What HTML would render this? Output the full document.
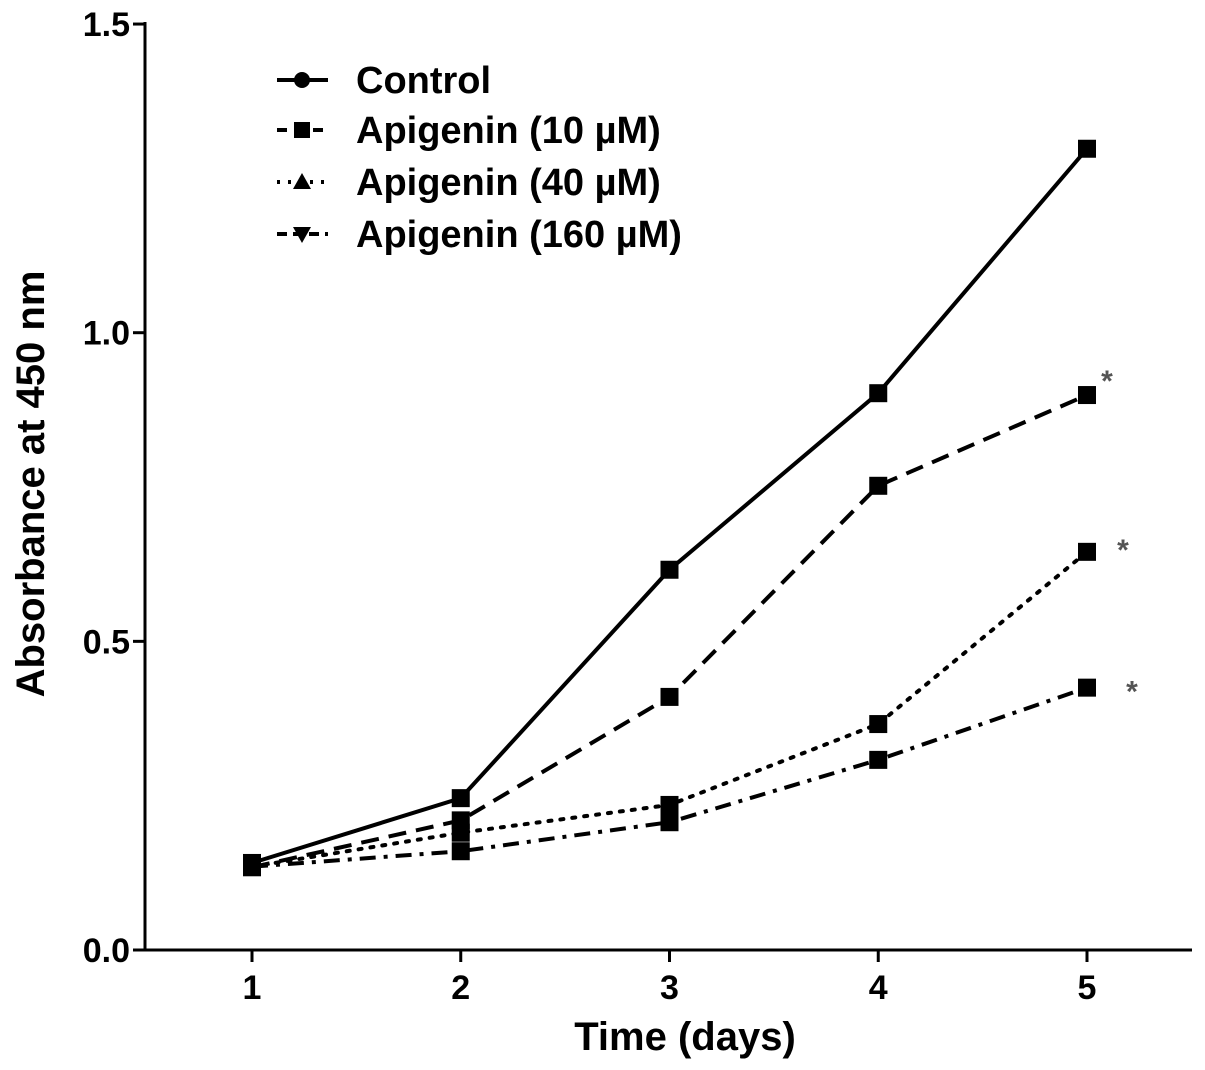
<!DOCTYPE html>
<html><head><meta charset="utf-8"><style>
body{margin:0;background:#fff;}
svg{display:block;font-family:"Liberation Sans",Arial,sans-serif;font-weight:bold;}
</style></head><body>
<svg id="chart" width="1205" height="1070" viewBox="0 0 1205 1070"></svg>
<script>
const days = [1, 2, 3, 4, 5];
const control = [0.141, 0.246, 0.616, 0.902, 1.298];
const api10 = [0.134, 0.21, 0.41, 0.752, 0.899];
const api40 = [0.135, 0.19, 0.235, 0.366, 0.645];
const api160 = [0.135, 0.16, 0.207, 0.308, 0.425];
const yTicks = [0.0, 0.5, 1.0, 1.5];
const yTickLabels = ["0.0", "0.5", "1.0", "1.5"];
const xTickLabels = ["1", "2", "3", "4", "5"];
const seriesNames = ["Control", "Apigenin (10 µM)", "Apigenin (40 µM)", "Apigenin (160 µM)"];

const NS = "http://www.w3.org/2000/svg";
const svg = document.getElementById("chart");
function X(d){ return 252 + (d - 1) * 208.75; }
function Y(v){ return 950 - v * 617.3; }
function el(tag, attrs, parent){
  const e = document.createElementNS(NS, tag);
  for (const k in attrs) e.setAttribute(k, attrs[k]);
  (parent || svg).appendChild(e);
  return e;
}
const yAxis = el("line", {x1:145, y1:22, x2:145, y2:951, stroke:"#000", "stroke-width":3});


const xAxis = el("line", {x1:144, y1:950, x2:1192, y2:950, stroke:"#000", "stroke-width":3});


yTicks.forEach((t, i) => {
  el("line", {x1:133, y1:Y(t), x2:145, y2:Y(t), stroke:"#000", "stroke-width":3});
  const tx = el("text", {x:130, y:Y(t)+12, "text-anchor":"end", "font-size":34});
  tx.textContent = yTickLabels[i];
  
  
});
days.forEach((d, i) => {
  el("line", {x1:X(d), y1:950, x2:X(d), y2:962, stroke:"#000", "stroke-width":3});
  const tx = el("text", {x:X(d), y:999, "text-anchor":"middle", "font-size":34});
  tx.textContent = xTickLabels[i];
  
  
});
const xt = el("text", {x:685, y:1050, "text-anchor":"middle", "font-size":40});
xt.textContent = "Time (days)";


const yt = el("text", {x:0, y:0, "text-anchor":"middle", "font-size":40, transform:"translate(44,484) rotate(-90)"});
yt.textContent = "Absorbance at 450 nm";



const series = [
  {v: control, dash: "", name: "control"},
  {v: api10, dash: "18,10", name: "apigenin-10"},
  {v: api40, dash: "3,9", name: "apigenin-40"},
  {v: api160, dash: "16,8,4,8", name: "apigenin-160"}
];
series.forEach(s => {
  const pts = days.map((d, i) => X(d) + "," + Y(s.v[i])).join(" ");
  const pl = el("polyline", {points: pts, fill:"none", stroke:"#000", "stroke-width":4, "stroke-dasharray": s.dash, "stroke-linecap": s.dash==="3,9"?"round":"butt"});
  
  
  days.forEach((d, i) => {
    const m = el("rect", {x:X(d)-9, y:Y(s.v[i])-9, width:18, height:18, fill:"#000"});
    
    
  });
});
[[1107, api10[4], -4], [1123, api40[4], 8], [1132, api160[4], 14]].forEach(a => {
  const t = el("text", {x:a[0], y:Y(a[1])+a[2], "text-anchor":"middle", "font-size":30, fill:"#555"});
  t.textContent = "*";
  
  
});
const legend = el("g", {});


const ly = [80, 130, 182, 234];
const ldash = ["", "10,8", "3,8", "10,6"];
seriesNames.forEach((n, i) => {
  el("line", {x1:277, y1:ly[i], x2:328, y2:ly[i], stroke:"#000", "stroke-width":4, "stroke-dasharray": ldash[i]}, legend);
  let m;
  if (i===0) m = el("circle", {cx:302, cy:ly[i], r:8, fill:"#000"}, legend);
  else if (i===1) m = el("rect", {x:294, y:ly[i]-8, width:16, height:16, fill:"#000"}, legend);
  else if (i===2) m = el("polygon", {points:`302,${ly[i]-9} 311,${ly[i]+7} 293,${ly[i]+7}`, fill:"#000"}, legend);
  else m = el("polygon", {points:`302,${ly[i]+9} 311,${ly[i]-7} 293,${ly[i]-7}`, fill:"#000"}, legend);
  
  
  const t = el("text", {x:356, y:ly[i]+13, "font-size":38}, legend);
  t.textContent = n;
  
  
});
</script>
</body></html>
